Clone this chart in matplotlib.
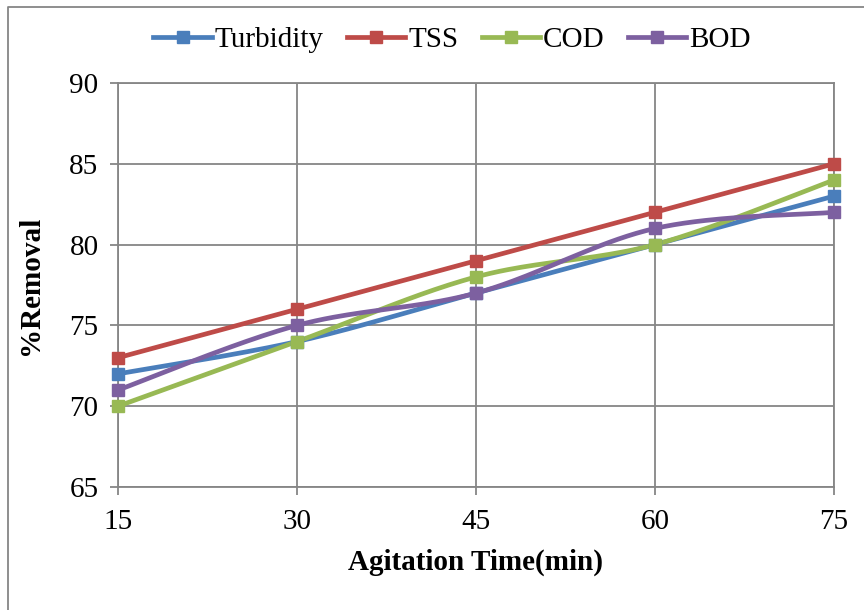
import numpy as np
import matplotlib.pyplot as plt
from matplotlib.lines import Line2D

plt.rcParams['font.family'] = ['Liberation Serif', 'DejaVu Serif']

# data
agitation_time = [15, 30, 45, 60, 75]
turbidity = [72, 74, 77, 80, 83]
tss = [73, 76, 79, 82, 85]
cod = [70, 74, 78, 80, 84]
bod = [71, 75, 77, 81, 82]

series_names = ['Turbidity', 'TSS', 'COD', 'BOD']
series_colors = ['#4A7EBB', '#BE4B48', '#98B954', '#7D60A0']


def smooth(x, y, n=40):
    # Excel-like smoothed line: Catmull-Rom control points on cubic Bezier
    x = np.asarray(x, float)
    y = np.asarray(y, float)
    pts = np.column_stack([x, y])
    out = [pts[0]]
    t = np.linspace(0, 1, n)[1:, None]
    for i in range(len(pts) - 1):
        p0 = pts[i - 1] if i > 0 else pts[i]
        p1, p2 = pts[i], pts[i + 1]
        p3 = pts[i + 2] if i + 2 < len(pts) else pts[i + 1]
        c1 = p1 + (p2 - p0) / 6
        c2 = p2 - (p3 - p1) / 6
        seg = ((1 - t) ** 3) * p1 + 3 * ((1 - t) ** 2) * t * c1 + 3 * (1 - t) * t ** 2 * c2 + t ** 3 * p2
        out.extend(seg)
    out = np.array(out)
    return out[:, 0], out[:, 1]


fig = plt.figure(figsize=(8.64, 6.10), dpi=100)
ax = fig.add_axes([118 / 864, 1 - 487 / 610, (834 - 118) / 864, (487 - 83) / 610])

grid_col = '#868686'
for name, vals, col in zip(series_names, [turbidity, tss, cod, bod], series_colors):
    sx, sy = smooth(agitation_time, vals)
    ax.plot(sx, sy, color=col, lw=3.4, solid_capstyle='round', clip_on=False, zorder=3)
    ax.plot(agitation_time, vals, ls='none', marker='s', ms=8, color=col, clip_on=False, zorder=4)

ax.set_xlim(15, 75)
ax.set_ylim(65, 90)
ax.set_xticks(agitation_time)
ax.set_yticks([65, 70, 75, 80, 85, 90])
ax.grid(True, color=grid_col, lw=1.3)
ax.set_axisbelow(True)
for s in ax.spines.values():
    s.set_color(grid_col)
    s.set_linewidth(1.3)
ax.tick_params(axis='both', direction='out', length=6, width=1.3, color=grid_col,
               labelsize=21, labelcolor='black')
ax.tick_params(axis='x', pad=10)
ax.tick_params(axis='y', pad=8)

ax.set_xlabel('Agitation Time(min)', fontsize=21, fontweight='bold', labelpad=10)
ax.set_ylabel('%Removal', fontsize=21, fontweight='bold', labelpad=18)

handles = [Line2D([], [], color=c, lw=3.4, marker='s', ms=8) for c in series_colors]
fig.legend(handles, series_names, loc='center', bbox_to_anchor=(452 / 864, 1 - 40 / 610),
           ncol=4, frameon=False, fontsize=21, handlelength=2.0, handletextpad=0.1,
           columnspacing=0.8)

# outer chart border (left and top visible in the crop)
fig.add_artist(Line2D([8 / 864, 8 / 864, 1.0], [0.0, 1 - 7 / 610, 1 - 7 / 610],
                      color=grid_col, lw=1.3, transform=fig.transFigure))

fig.savefig('out.png', dpi=100)
